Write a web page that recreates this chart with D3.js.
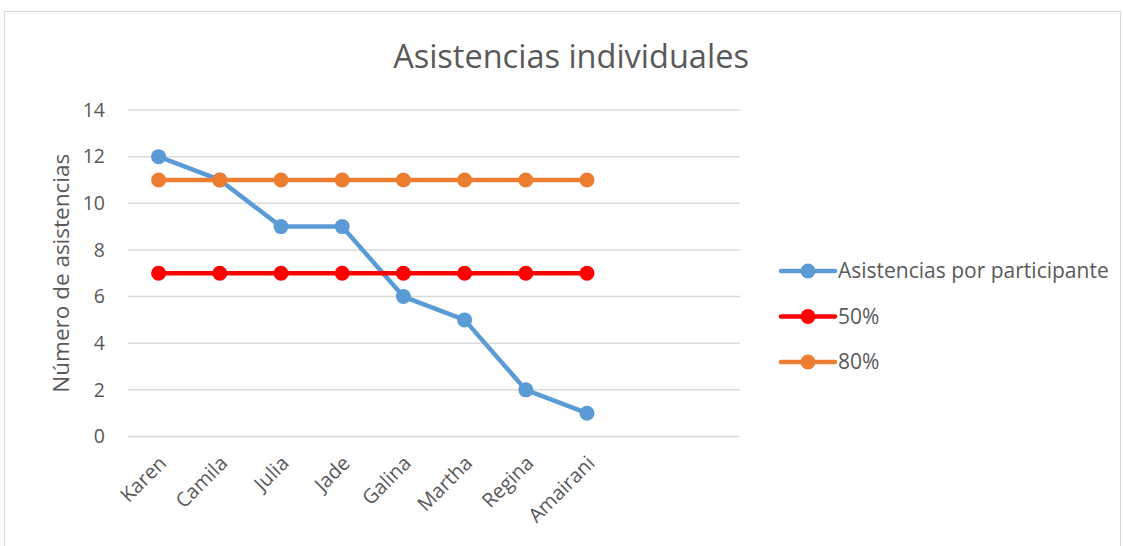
<!DOCTYPE html>
<html>
<head>
<meta charset="utf-8">
<title>Asistencias individuales</title>
<style>
body { margin: 0; background: #fff; }
text { font-family: "Open Sans", "Noto Sans", sans-serif; fill: #595959; }
</style>
</head>
<body>
<script src="https://cdn.jsdelivr.net/npm/d3@7"></script>
<script>
// data
var participantes = ["Karen", "Camila", "Julia", "Jade", "Galina", "Martha", "Regina", "Amairani"];
var asistencias = [12, 11, 9, 9, 6, 5, 2, 1];
var mitad = [7, 7, 7, 7, 7, 7, 7, 7];
var ochenta = [11, 11, 11, 11, 11, 11, 11, 11];
var yTicks = [0, 2, 4, 6, 8, 10, 12, 14];
var slots = 10; // the axis keeps two empty categories at the end

var series = [
    { name: "Asistencias por participante", values: asistencias, color: "#5B9BD5" },
    { name: "50%", values: mitad, color: "#FF0000" },
    { name: "80%", values: ochenta, color: "#ED7D31" }
];

var W = 1123, H = 546;
var plot = { left: 128, right: 740, top: 110, bottom: 436.5 };

var svg = d3.select("body").append("svg")
    .attr("width", W)
    .attr("height", H);

// chart frame
svg.append("rect")
    .attr("x", 4.5).attr("y", 11.5)
    .attr("width", 1116).attr("height", 560)
    .attr("fill", "none")
    .attr("stroke", "#d9d9d9");

var x = d3.scaleBand()
    .domain(d3.range(slots))
    .range([plot.left, plot.right]);

var y = d3.scaleLinear()
    .domain([0, 14])
    .range([plot.bottom, plot.top]);

// gridlines
svg.append("g")
    .selectAll("line")
    .data(yTicks)
    .join("line")
    .attr("x1", plot.left).attr("x2", plot.right)
    .attr("y1", function(d) { return y(d); })
    .attr("y2", function(d) { return y(d); })
    .attr("stroke", "#d9d9d9")
    .attr("stroke-width", 1.5);

// y axis labels
var yAxis = svg.append("g")
    .attr("transform", "translate(" + (plot.left - 23) + ",0)")
    .call(d3.axisLeft(y).tickValues(yTicks).tickSize(0).tickPadding(0));
yAxis.select(".domain").remove();
yAxis.selectAll("text")
    .attr("fill", "#595959")
    .style("font-size", "19.5px")
    .style("font-family", "'Open Sans', sans-serif");

// x axis labels, rotated
var xAxis = svg.append("g")
    .attr("transform", "translate(0," + plot.bottom + ")")
    .call(d3.axisBottom(x).tickSize(0).tickFormat(function(i) { return participantes[i] || ""; }));
xAxis.select(".domain").remove();
xAxis.selectAll("text")
    .attr("fill", "#595959")
    .style("font-size", "20px")
    .style("font-family", "'Open Sans', sans-serif")
    .attr("text-anchor", "end")
    .attr("dy", null)
    .attr("y", 0)
    .attr("transform", "translate(9,28) rotate(-45)");

// lines and markers
var line = d3.line()
    .x(function(d, i) { return x(i) + x.bandwidth() / 2; })
    .y(function(d) { return y(d); });

series.forEach(function(s) {
    var g = svg.append("g");
    g.append("path")
        .attr("d", line(s.values))
        .attr("fill", "none")
        .attr("stroke", s.color)
        .attr("stroke-width", 4.5)
        .attr("stroke-linejoin", "round")
        .attr("stroke-linecap", "round");
    g.selectAll("circle")
        .data(s.values)
        .join("circle")
        .attr("cx", function(d, i) { return x(i) + x.bandwidth() / 2; })
        .attr("cy", function(d) { return y(d); })
        .attr("r", 7.5)
        .attr("fill", s.color);
});

// title
svg.append("text")
    .attr("x", 571).attr("y", 68)
    .attr("text-anchor", "middle")
    .style("font-size", "32.5px")
    .text("Asistencias individuales");

// y axis title
svg.append("text")
    .attr("transform", "translate(69," + ((plot.top + plot.bottom) / 2) + ") rotate(-90)")
    .attr("text-anchor", "middle")
    .style("font-size", "22.5px")
    .text("Número de asistencias");

// legend
var legend = svg.append("g")
    .selectAll("g")
    .data(series)
    .join("g")
    .attr("transform", function(d, i) { return "translate(781," + (271 + i * 45.5) + ")"; });
legend.append("line")
    .attr("x1", 0).attr("x2", 54)
    .attr("stroke", function(d) { return d.color; })
    .attr("stroke-width", 4.5)
    .attr("stroke-linecap", "round");
legend.append("circle")
    .attr("cx", 27).attr("r", 7.5)
    .attr("fill", function(d) { return d.color; });
legend.append("text")
    .attr("x", 57).attr("dy", "0.35em")
    .style("font-size", "21px")
    .text(function(d) { return d.name; });
</script>
</body>
</html>
